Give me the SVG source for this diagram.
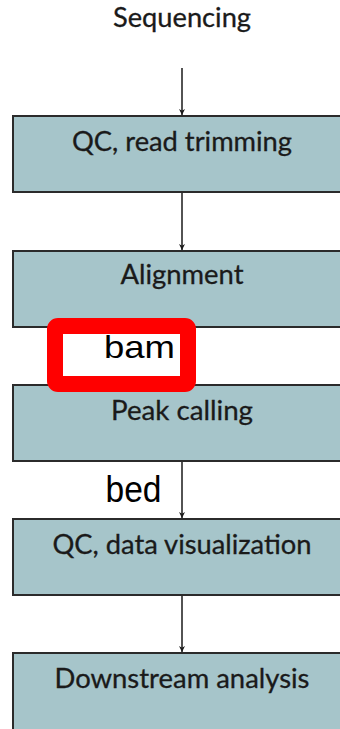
<svg xmlns="http://www.w3.org/2000/svg" width="340" height="729" viewBox="0 0 340 729">
<defs>
<style>
.box{fill:#a6c5ca;stroke:#2b2b2b;stroke-width:2}
.lbl{font-family:Lato,"Open Sans",sans-serif;font-size:26px;fill:#1a1a1a;stroke:#1a1a1a;stroke-width:0.3;text-anchor:middle}
.edge{stroke:#1a1a1a;stroke-width:1.5;fill:none;marker-end:url(#ah)}
.tag{font-family:"Liberation Sans",Arial,sans-serif;fill:#000}
</style>
<marker id="ah" viewBox="0 0 10 10" refX="10" refY="5" markerWidth="6" markerHeight="8" markerUnits="userSpaceOnUse" orient="auto">
<path d="M0,0 L10,5 L0,10 L3,5 Z" fill="#1a1a1a"/>
</marker>
</defs>
<rect width="340" height="729" fill="#ffffff"/>
<g id="sequencing">
<text class="lbl" x="182" y="27" textLength="138" lengthAdjust="spacingAndGlyphs">Sequencing</text>
</g>
<g id="connectors">
<line class="edge" x1="182" y1="68" x2="182" y2="115"/>
<line class="edge" x1="182" y1="193" x2="182" y2="250"/>
<line class="edge" x1="182" y1="328" x2="182" y2="384"/>
<line class="edge" x1="182" y1="462" x2="182" y2="518"/>
<line class="edge" x1="182" y1="596" x2="182" y2="652"/>
</g>
<g id="qc-read-trimming">
<rect class="box" x="13" y="116" width="340" height="76"/>
<text class="lbl" x="182" y="151" textLength="220" lengthAdjust="spacingAndGlyphs">QC, read trimming</text>
</g>
<g id="alignment">
<rect class="box" x="13" y="251" width="340" height="76"/>
<text class="lbl" x="182" y="284" textLength="123" lengthAdjust="spacingAndGlyphs">Alignment</text>
</g>
<g id="peak-calling">
<rect class="box" x="13" y="385" width="340" height="76"/>
<text class="lbl" x="182" y="420" textLength="142" lengthAdjust="spacingAndGlyphs">Peak calling</text>
</g>
<g id="qc-data-visualization">
<rect class="box" x="13" y="519" width="340" height="76"/>
<text class="lbl" x="182" y="554" textLength="259" lengthAdjust="spacingAndGlyphs">QC, data visualization</text>
</g>
<g id="downstream-analysis">
<rect class="box" x="13" y="653" width="340" height="90"/>
<text class="lbl" x="182" y="688" textLength="255" lengthAdjust="spacingAndGlyphs">Downstream analysis</text>
</g>
<g id="bam-label">
<rect x="55" y="326" width="133" height="58" rx="3" fill="#ffffff" stroke="#ff0000" stroke-width="16"/>
<text class="tag" x="104" y="358" font-size="32" textLength="71" lengthAdjust="spacingAndGlyphs">bam</text>
</g>
<g id="bed-label">
<text class="tag" x="105.5" y="501.5" font-size="36" textLength="56" lengthAdjust="spacingAndGlyphs">bed</text>
</g>
</svg>
